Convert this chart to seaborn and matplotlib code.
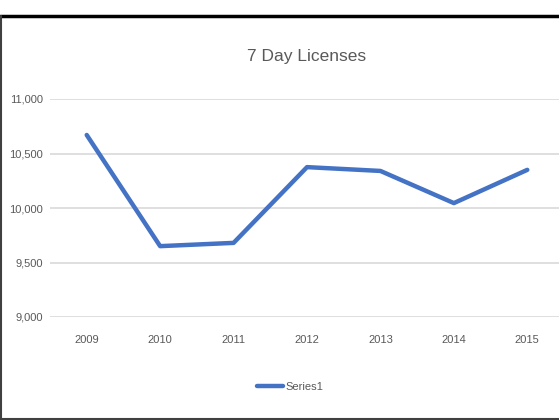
import pandas as pd
import matplotlib.pyplot as plt
import seaborn as sns
from matplotlib.lines import Line2D

# data
years = ["2009", "2010", "2011", "2012", "2013", "2014", "2015"]
licenses = [10670, 9650, 9680, 10375, 10340, 10045, 10350]
yticks = [9000, 9500, 10000, 10500, 11000]

df = pd.DataFrame({"year": years, "value": licenses, "series": "Series1"})

sns.set_style("white")
plt.rcParams["font.family"] = ["Liberation Sans", "DejaVu Sans"]

fig = plt.figure(figsize=(5.59, 4.20), dpi=100)
ax = fig.add_axes([50 / 559, 103 / 420, 514 / 559, 218 / 420])

sns.lineplot(data=df, x="year", y="value", hue="series", palette=["#4472C4"],
             linewidth=3.2, ax=ax, sort=False)

ax.set_xlim(-0.5, len(years) - 0.5)
ax.set_ylim(9000, 11000)
ax.set_yticks(yticks)
ax.set_yticklabels([f"{v:,}" for v in yticks])
ax.yaxis.grid(True, color="#D9D9D9", linewidth=1.2)
ax.set_axisbelow(True)
for s in ax.spines.values():
    s.set_visible(False)
ax.tick_params(length=0, labelsize=8, colors="#595959", pad=5)
ax.tick_params(axis="x", pad=13)
ax.set_xlabel("")
ax.set_ylabel("")

ax.set_title("7 Day Licenses", fontsize=12.5, color="#595959", pad=27)

leg = ax.legend(loc="center", frameon=False, fontsize=8,
                handlelength=2.4, handletextpad=0.2)
leg.set_bbox_to_anchor((290 / 559, 1 - 387 / 420), transform=fig.transFigure)
for t in leg.get_texts():
    t.set_color("#595959")

# chart frame (cropped on the right)
fig.add_artist(Line2D([0, 1], [1 - 15.5 / 420] * 2, color="black", linewidth=2.5))
fig.add_artist(Line2D([1 / 559] * 2, [0, 1 - 15.5 / 420], color="#404040", linewidth=1.5))
fig.add_artist(Line2D([0, 1], [1 / 420] * 2, color="#404040", linewidth=1.5))

fig.savefig("out.png", dpi=100)
